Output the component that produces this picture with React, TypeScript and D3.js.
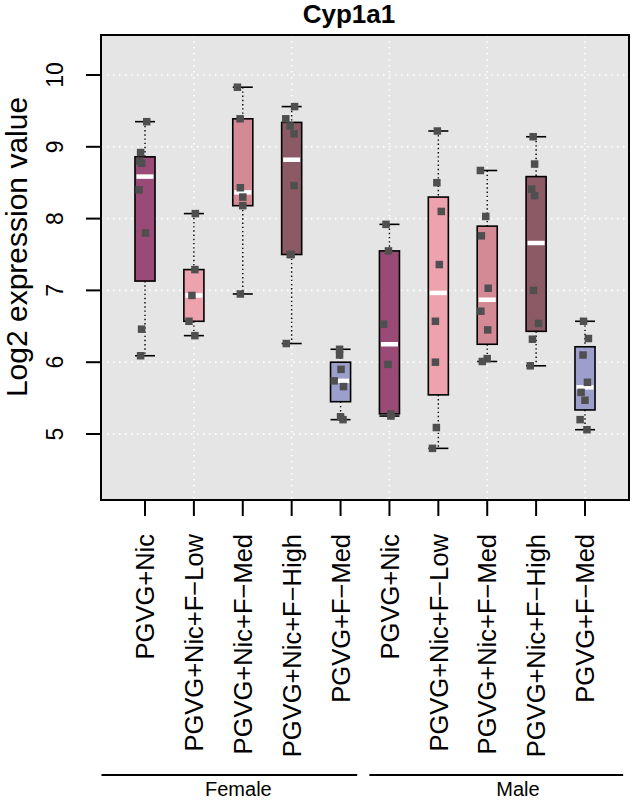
import React from "react";
import * as d3 from "d3";

// ---------- data ----------
const groupNames = ["PGVG+Nic", "PGVG+Nic+F\u2212Low", "PGVG+Nic+F\u2212Med", "PGVG+Nic+F\u2212High", "PGVG+F\u2212Med"];
const sexes = ["Female", "Male"];
const boxColors = ["#9a4a77", "#eda2ad", "#d48a95", "#8c5a64", "#9c9fcb"];
const yTicks = [5, 6, 7, 8, 9, 10];
const title = "Cyp1a1";
const yLabel = "Log2 expression value";

// expression values per box (Female 1-5, Male 1-5)
const f1 = [9.35, 8.92, 8.8, 8.77, 8.4, 7.8, 6.46, 6.09];
const f2 = [8.07, 7.29, 6.93, 6.57, 6.37];
const f3 = [9.83, 9.39, 8.43, 8.3, 8.18, 6.95];
const f4 = [9.56, 9.39, 9.29, 9.18, 8.46, 7.5, 7.5, 6.26];
const f5 = [6.18, 6.1, 5.9, 5.74, 5.66, 5.24, 5.2];
const m1 = [7.92, 7.55, 6.53, 5.97, 5.28, 5.25];
const m2 = [9.22, 8.5, 8.1, 7.36, 6.57, 6.0, 5.09, 4.8];
const m3 = [8.67, 8.03, 7.76, 7.03, 6.71, 6.45, 6.05, 6.01];
const m4 = [9.14, 8.76, 8.41, 8.32, 7.0, 6.54, 6.32, 5.95];
const m5 = [6.57, 6.33, 6.1, 5.72, 5.58, 5.47, 5.2, 5.06];

// horizontal jitter of the points (category units)
const j1 = [0.035, -0.09, -0.11, -0.07, -0.12, 0.01, -0.07, -0.09];
const j2 = [0.03, 0.02, -0.04, -0.1, 0.02];
const j3 = [-0.11, -0.055, -0.05, 0.0, 0.0, -0.05];
const j4 = [0.06, -0.12, -0.03, 0.05, 0.05, -0.03, -0.01, -0.11];
const j5 = [-0.02, -0.02, 0.01, -0.13, 0.06, 0.0, 0.05];
const j6 = [-0.07, -0.02, -0.12, -0.03, 0.03, 0.03];
const j7 = [-0.02, -0.03, 0.06, 0.02, -0.06, -0.06, -0.04, -0.12];
const j8 = [-0.14, -0.03, -0.12, 0.02, -0.13, 0.01, 0.0, -0.1];
const j9 = [-0.06, -0.03, -0.09, -0.03, -0.055, 0.05, -0.075, -0.12];
const j10 = [-0.03, 0.07, -0.04, 0.05, -0.08, 0.0, -0.1, 0.04];

const values = [f1, f2, f3, f4, f5, m1, m2, m3, m4, m5];
const jitter = [j1, j2, j3, j4, j5, j6, j7, j8, j9, j10];

// ---------- stats (R fivenum / boxplot.stats) ----------
function boxStats(v: number[]) {
  const x = [...v].sort((a, b) => a - b);
  const n = x.length;
  const n4 = Math.floor((n + 3) / 2) / 2;
  const at = (d: number) => 0.5 * (x[Math.floor(d) - 1] + x[Math.ceil(d) - 1]);
  const q1 = at(n4);
  const med = at((n + 1) / 2);
  const q3 = at(n + 1 - n4);
  const iqr = q3 - q1;
  const lo = d3.min(x.filter((d) => d >= q1 - 1.5 * iqr)) as number;
  const hi = d3.max(x.filter((d) => d <= q3 + 1.5 * iqr)) as number;
  return { q1, med, q3, lo, hi };
}

const W = 632;
const H = 802;
const P = { left: 101, right: 629, top: 35, bottom: 500 };
const FONT = "'Liberation Sans', Arial, Helvetica, sans-serif";

export default function App() {
  const x = d3.scaleLinear().domain([0.1, 10.9]).range([P.left, P.right]);
  const y = d3.scaleLinear().domain([5, 10]).range([434, 75]);
  const boxW = x(0.41) - x(0);
  const ptS = 7.5;
  const xGrid = [2, 4, 6, 8, 10];

  const positions = values.map((_, i) => i + 1);
  const labels = sexes.flatMap(() => groupNames);

  const xFs = 25.5;
  const yFs = 23;

  const groupSpans = [
    { name: sexes[0], from: 0.11, to: 5.34, label: 2.91 },
    { name: sexes[1], from: 5.59, to: 10.78, label: 8.63 },
  ];

  return (
    <svg width={W} height={H} style={{ display: "block", position: "absolute", left: 0, top: 0 }} fontFamily={FONT}>
      <rect x={0} y={0} width={W} height={H} fill="#ffffff" />
      {/* plot background */}
      <rect x={P.left} y={P.top} width={P.right - P.left} height={P.bottom - P.top} fill="#e5e5e5" />
      {/* grid */}
      {yTicks.map((t) => (
        <line key={"gy" + t} x1={P.left} x2={P.right} y1={y(t)} y2={y(t)} stroke="#ffffff" strokeWidth={1.6} strokeDasharray="1.6,4.4" />
      ))}
      {xGrid.map((t) => (
        <line key={"gx" + t} x1={x(t)} x2={x(t)} y1={P.top} y2={P.bottom} stroke="#ffffff" strokeWidth={1.6} strokeDasharray="1.6,4.4" />
      ))}
      {/* boxes */}
      {values.map((v, i) => {
        const s = boxStats(v);
        const cx = x(positions[i]);
        const col = boxColors[i % 5];
        return (
          <g key={"b" + i}>
            <line x1={cx} x2={cx} y1={y(s.hi)} y2={y(s.q3)} stroke="#000" strokeWidth={1.4} strokeDasharray="1.4,2.8" />
            <line x1={cx} x2={cx} y1={y(s.q1)} y2={y(s.lo)} stroke="#000" strokeWidth={1.4} strokeDasharray="1.4,2.8" />
            <line x1={cx - boxW / 2} x2={cx + boxW / 2} y1={y(s.hi)} y2={y(s.hi)} stroke="#000" strokeWidth={1.6} />
            <line x1={cx - boxW / 2} x2={cx + boxW / 2} y1={y(s.lo)} y2={y(s.lo)} stroke="#000" strokeWidth={1.6} />
            <rect x={cx - boxW / 2} y={y(s.q3)} width={boxW} height={y(s.q1) - y(s.q3)} fill={col} stroke="#000" strokeWidth={1.6} />
            <line x1={cx - boxW / 2 + 1.5} x2={cx + boxW / 2 - 1.5} y1={y(s.med)} y2={y(s.med)} stroke="#ffffff" strokeWidth={4.5} />
          </g>
        );
      })}
      {/* points */}
      {values.map((v, i) =>
        v.map((d, k) => (
          <rect
            key={"p" + i + "-" + k}
            x={x(positions[i] + jitter[i][k]) - ptS / 2}
            y={y(d) - ptS / 2}
            width={ptS}
            height={ptS}
            fill="#4f4f4f"
          />
        ))
      )}
      {/* frame */}
      <rect x={P.left} y={P.top} width={P.right - P.left} height={P.bottom - P.top} fill="none" stroke="#000" strokeWidth={2} />
      {/* y axis */}
      {yTicks.map((t) => (
        <g key={"yt" + t}>
          <line x1={P.left - 15} x2={P.left} y1={y(t)} y2={y(t)} stroke="#000" strokeWidth={2} />
          <text transform={`translate(63,${y(t)}) rotate(-90)`} textAnchor="middle" fontSize={yFs} fill="#000">
            {t}
          </text>
        </g>
      ))}
      {/* x axis */}
      {positions.map((p, i) => (
        <g key={"xt" + i}>
          <line x1={x(p)} x2={x(p)} y1={P.bottom} y2={P.bottom + 16} stroke="#000" strokeWidth={2} />
          <text transform={`translate(${x(p) + 0.36 * xFs},534) rotate(-90)`} textAnchor="end" fontSize={xFs} fill="#000">
            {labels[i]}
          </text>
        </g>
      ))}
      {/* group annotations */}
      {groupSpans.map((g) => (
        <g key={g.name}>
          <line x1={x(g.from)} x2={x(g.to)} y1={775} y2={775} stroke="#000" strokeWidth={2} />
          <text x={x(g.label)} y={796} textAnchor="middle" fontSize={20} fill="#000">
            {g.name}
          </text>
        </g>
      ))}
      {/* titles */}
      <text x={349} y={23} textAnchor="middle" fontSize={26} fontWeight="bold" fill="#000">
        {title}
      </text>
      <text transform={`translate(27,247) rotate(-90)`} textAnchor="middle" fontSize={30} fill="#000">
        {yLabel}
      </text>
    </svg>
  );
}
